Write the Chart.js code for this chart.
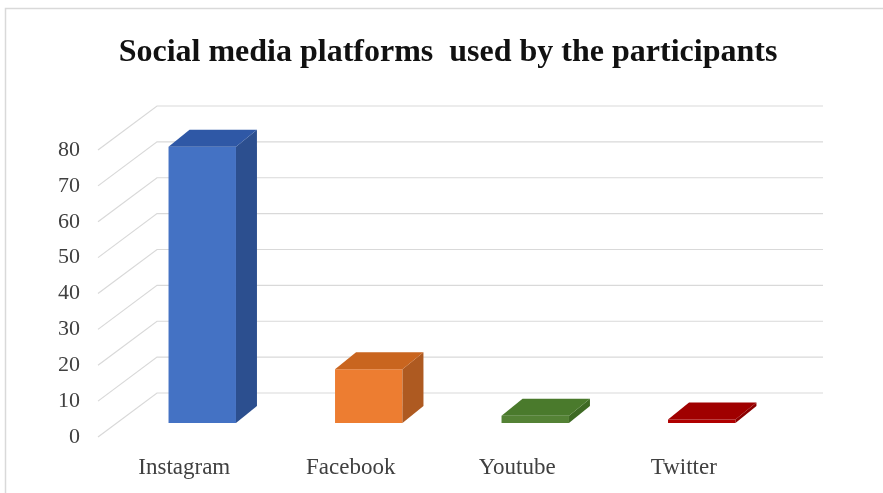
<!DOCTYPE html>
<html>
<head>
<meta charset="utf-8">
<script src="https://cdn.jsdelivr.net/npm/chart.js@4"></script>
<style>
  html, body { margin: 0; padding: 0; background: #ffffff; }
  #wrap { width: 883px; height: 493px; }
</style>
</head>
<body>
<div id="wrap"><canvas id="c" width="883" height="493"></canvas></div>
<script>
const categories = ["Instagram", "Facebook", "Youtube", "Twitter"];
const values = [77, 15, 2, 1];
const yTicks = [0, 10, 20, 30, 40, 50, 60, 70, 80];
const titleText = "Social media platforms  used by the participants";

const frontColors = ["#4472C4", "#ED7D31", "#548235", "#B00000"];
const topColors   = ["#2F58A6", "#C9651F", "#4A7A2C", "#A00000"];
const sideColors  = ["#2C4F8F", "#AE5A21", "#3E6A24", "#8A0000"];

const WALL_DX = 56, WALL_DY = 44;   // depth of the 3D floor / back wall
const BAR_OX = 18, BAR_OY = 14;     // bar front plane offset
const BAR_DX = 21, BAR_DY = 17;     // bar depth
const SERIF = "'Liberation Serif', 'DejaVu Serif', serif";

const frame3d = {
  id: 'frame3d',
  beforeDraw(chart) {
    const ctx = chart.ctx;
    ctx.save();
    ctx.fillStyle = '#ffffff';
    ctx.fillRect(0, 0, chart.width, chart.height);
    ctx.strokeStyle = '#d9d9d9';
    ctx.lineWidth = 1.5;
    ctx.beginPath();
    ctx.moveTo(5.5, chart.height);
    ctx.lineTo(5.5, 8.5);
    ctx.lineTo(chart.width, 8.5);
    ctx.stroke();
    ctx.restore();
  },
  beforeDatasetsDraw(chart) {
    const ctx = chart.ctx;
    const y = chart.scales.y;
    const a = chart.chartArea;
    ctx.save();
    ctx.strokeStyle = '#d9d9d9';
    ctx.lineWidth = 1.2;
    yTicks.forEach(v => {
      const yf = y.getPixelForValue(v);
      ctx.beginPath();
      ctx.moveTo(a.left - 3, yf);
      ctx.lineTo(a.left + WALL_DX, yf - WALL_DY);
      ctx.lineTo(a.right + WALL_DX, yf - WALL_DY);
      ctx.stroke();
    });
    ctx.restore();
    ctx.save();
    ctx.translate(BAR_OX, -BAR_OY);
  },
  afterDatasetsDraw(chart) {
    const ctx = chart.ctx;
    const meta = chart.getDatasetMeta(0);
    meta.data.forEach((bar, i) => {
      const p = bar.getProps(['x', 'y', 'base', 'width'], true);
      const l = p.x - p.width / 2, r = p.x + p.width / 2;
      ctx.fillStyle = sideColors[i];
      ctx.beginPath();
      ctx.moveTo(r, p.y);
      ctx.lineTo(r + BAR_DX, p.y - BAR_DY);
      ctx.lineTo(r + BAR_DX, p.base - BAR_DY);
      ctx.lineTo(r, p.base);
      ctx.closePath();
      ctx.fill();
      ctx.fillStyle = topColors[i];
      ctx.beginPath();
      ctx.moveTo(l, p.y);
      ctx.lineTo(l + BAR_DX, p.y - BAR_DY);
      ctx.lineTo(r + BAR_DX, p.y - BAR_DY);
      ctx.lineTo(r, p.y);
      ctx.closePath();
      ctx.fill();
    });
    ctx.restore();
  }
};

new Chart(document.getElementById('c'), {
  type: 'bar',
  data: {
    labels: categories,
    datasets: [{
      data: values,
      backgroundColor: frontColors,
      borderWidth: 0,
      categoryPercentage: 1.0,
      barPercentage: 0.405
    }]
  },
  options: {
    responsive: false,
    animation: false,
    layout: { padding: { left: 13, right: 0, top: 0, bottom: 0 } },
    plugins: {
      legend: { display: false },
      tooltip: { enabled: false },
      title: {
        display: true,
        text: titleText,
        color: '#111111',
        font: { family: SERIF, size: 32, weight: 'bold', lineHeight: 1.2 },
        padding: { top: 34, bottom: 77.6 }
      }
    },
    scales: {
      x: {
        grid: { display: false, drawTicks: false },
        border: { display: false },
        ticks: { color: '#404040', font: { family: SERIF, size: 23 }, padding: 17 },
        afterFit(s) { s.height = 56; }
      },
      y: {
        min: 0, max: 80,
        afterBuildTicks(s) { s.ticks = yTicks.map(v => ({ value: v })); },
        grid: { display: false, drawTicks: false },
        border: { display: false },
        ticks: { color: '#404040', font: { family: SERIF, size: 22 }, padding: 21 },
        afterFit(s) { s.width = 88; }
      },
      y2: {
        position: 'right',
        display: true,
        grid: { display: false, drawTicks: false },
        border: { display: false },
        ticks: { display: false },
        afterFit(s) { s.width = 116; }
      }
    }
  },
  plugins: [frame3d]
});
</script>
</body>
</html>
